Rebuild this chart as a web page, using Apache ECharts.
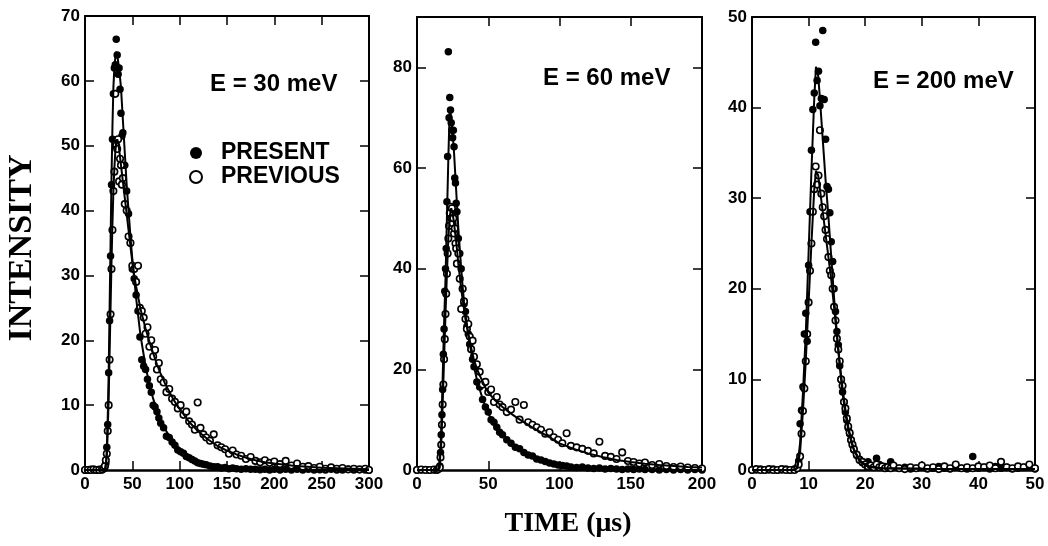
<!DOCTYPE html>
<html>
<head>
<meta charset="utf-8">
<title>Intensity vs time</title>
<script src="https://cdn.jsdelivr.net/npm/echarts@6/dist/echarts.min.js"></script>
<style>
  html, body { margin: 0; padding: 0; background: #fff; }
  #chart { width: 1048px; height: 546px; }
</style>
</head>
<body>
<div id="chart"></div>
<script>
// ---- values (time in us, intensity) ----

// E = 30 meV
const t1 = [0, 3, 6, 9, 12, 15, 18, 20,
  21, 22, 23, 24, 25, 26, 27, 28, 29, 30, 31, 32, 33, 34, 35, 36, 37, 38, 39, 40,
  42, 44, 46, 48, 50, 52, 54, 56, 58, 60, 62, 64, 66, 68, 70, 72, 74, 76, 78, 80,
  83, 86, 89, 92, 95, 98, 101, 104, 107, 110, 113, 116, 119, 122, 125, 128,
  132, 136, 140, 144, 148, 152, 156, 160,
  165, 170, 175, 180, 185, 190, 195, 200,
  206, 212, 218, 224, 230, 236, 242, 248, 254, 260, 266, 272, 278, 284, 290, 296,
  300]
const present1 = [0, 0, 0.1, 0, 0, 0.1, 0, 0.2,
  0.5, 1, 3.5, 7, 15, 23, 33, 44, 51, 58, 62, 62.5, 66.4, 64, 61, 62, 58.7, 55, 51.5, 52,
  47, 43, 39.5, 35, 31, 29.5, 27, 24.5, 20.5, 17, 16, 15.5, 14, 13, 12, 10, 9.7, 9, 8, 7.2,
  6.5, 5.2, 5, 4.3, 3.8, 3.1, 2.8, 2.6, 2.1, 1.9, 1.6, 1.4, 1.1, 1.0, 0.9, 0.8,
  0.6, 0.5, 0.5, 0.3, 0.4, 0.2, 0.3, 0.2,
  0.1, 0.2, 0.1, 0.1, 0.05, 0.1, 0, 0.1,
  0, 0.1, 0, 0.1, 0, 0.1, 0, 0.05, 0, 0.1, 0, 0, 0.1, 0, 0.05, 0,
  0]
const previous1 = [0, 0, 0, 0.1, 0, 0, 0.1, 0.3,
  0.6, 1.5, 2.5, 6, 10, 17, 24, 31, 37, 43, 46, 58, 50, 49.5, 51, 44.5, 48, 47, 44, 45,
  41, 40, 36, 35, 31.5, 31, 29, 31.5, 25, 24.5, 23.5, 21, 22, 19, 20, 17.5, 18.5, 15.5, 16.5, 14,
  13.5, 12, 12.5, 11, 10.5, 9.5, 10, 8.5, 9, 7.5, 7, 6.2, 10.4, 6.5, 5.5, 5,
  4.5, 5.5, 3.8, 3.5, 3.2, 2.5, 3, 2.4,
  2.2, 1.7, 2.0, 1.4, 1.2, 1.5, 1.1, 1.3,
  0.9, 1.4, 0.7, 1.0, 0.5, 0.6, 0.3, 0.5, 0.2, 0.4, 0.2, 0.3, 0.1, 0.2, 0.1, 0.2,
  0]
const fitT1 = [0, 21, 22, 23, 24, 25, 26, 27, 28, 29, 30, 31, 32, 33, 34, 35, 36,
  38, 40, 42, 44, 46, 48, 50, 52, 54, 56, 58, 60,
  64, 68, 72, 76, 80, 85, 90, 95, 100,
  110, 120, 130, 140, 150, 160, 170, 180, 190, 200, 220, 250, 300]
const fitPresent1 = [0, 0, 0.5, 3, 8, 15, 25, 35, 45, 53, 59, 62, 63.5, 64.5, 64, 63, 62,
  59, 54, 49, 44, 40, 36, 32.5, 29.5, 26.5, 24, 21.5, 19.5,
  16, 13.2, 11, 9.2, 7.7, 6.2, 5, 4, 3.2,
  2.0, 1.3, 0.85, 0.55, 0.35, 0.25, 0.15, 0.1, 0.08, 0.05, 0.03, 0.01, 0]
const fitPrevious1 = [0, 0, 0.3, 2, 6, 11, 18, 25, 32, 38, 43, 46.5, 49, 50.5, 51, 50.5, 49.5,
  47, 44.5, 42, 39.5, 37, 34.5, 32, 30, 28.3, 26.8, 25.3, 24,
  21.8, 19.8, 18, 16.3, 14.8, 13.2, 11.8, 10.5, 9.4,
  7.4, 5.9, 4.7, 3.7, 3.0, 2.4, 1.9, 1.5, 1.2, 1.0, 0.65, 0.35, 0.1]

// E = 60 meV
const t2 = [0, 3, 6, 9, 12, 14, 15,
  16, 16.5, 17, 17.5, 18, 18.5, 19, 19.5, 20, 20.5, 21, 21.5, 22, 22.5, 23, 23.5, 24, 24.5, 25, 25.5, 26, 26.5, 27, 27.5, 28,
  29, 30, 31, 32, 33, 34, 35, 36, 37, 38, 39, 40,
  42, 44, 46, 48, 50, 52, 54, 56, 58, 60,
  63, 66, 69, 72, 75, 78, 81, 84, 87, 90, 93, 96, 99, 102, 105, 108,
  112, 116, 120, 124, 128, 132, 136, 140, 144, 148, 152, 156, 160,
  165, 170, 175, 180, 185, 190, 195, 200]
const present2 = [0, 0, 0.1, 0, 0, 0.1, 0.3,
  0.8, 3.5, 7, 11, 16, 23, 28, 35.5, 40, 44, 53.3, 62.3, 83.1, 70, 74, 71.5, 69, 67.5, 66, 67.5, 64.2, 58, 57, 53, 51.3,
  46, 43, 40, 36, 33, 31.5, 28.5, 27, 25, 24, 22, 20.5,
  17.5, 16.5, 14, 12.5, 11.5, 10, 9.5, 8.5, 7.5, 7,
  6, 5.3, 4.5, 4.2, 3.5, 3.0, 2.8, 2.2, 2.0, 1.7, 1.4, 1.2, 1.0, 0.9, 0.8, 0.6,
  0.5, 0.6, 0.4, 0.3, 0.4, 0.2, 0.3, 0.2, 0.1, 0.2, 0.1, 0.2, 0.1,
  0.1, 0, 0.1, 0, 0.1, 0, 0.1, 0]
const previous2 = [0, 0.1, 0, 0, 0.1, 0, 0.2,
  0.5, 2.5, 5, 9, 13, 17, 22, 26, 31, 35, 39, 43, 46, 48.5, 51, 52.3, 50, 52, 49, 50, 47, 48, 45, 44, 41,
  43, 38, 32, 36, 33.5, 30, 28, 29, 26.5, 24, 25.7, 22.5,
  21, 19.5, 17, 17.5, 15.5, 16, 13.5, 14.5, 13, 12.5,
  11.5, 12, 13.5, 10, 12.9, 9.5, 9, 8.5, 8, 7.2, 7.5, 6.5, 6, 5.3, 7.3, 4.8,
  4.5, 4.2, 3.8, 3.3, 5.6, 2.8, 2.6, 2.2, 3.5, 1.8, 1.6, 1.3, 1.5,
  1.0, 1.2, 0.8, 0.6, 0.7, 0.5, 0.4, 0.3]
const fitT2 = [0, 15, 16, 17, 18, 19, 20, 21, 22, 23, 24, 25, 26, 27, 28, 29, 30, 31, 32, 33, 34,
  36, 38, 40, 42, 44, 46, 48, 50,
  55, 60, 65, 70, 75, 80, 85, 90, 95, 100,
  110, 120, 130, 140, 150, 160, 170, 180, 190, 200]
const fitPresent2 = [0, 0, 0.5, 8, 18, 29, 38, 50, 62, 72, 70, 67, 63, 58, 53, 48, 44, 40, 36.5, 33.5, 31,
  27, 23.5, 20.5, 18, 16, 14.2, 12.6, 11.2,
  8.8, 6.8, 5.6, 4.5, 3.6, 2.8, 2.2, 1.7, 1.3, 1.0,
  0.6, 0.4, 0.25, 0.15, 0.1, 0.08, 0.05, 0.03, 0.02, 0.01]
const fitPrevious2 = [0, 0, 0.3, 5, 13, 22, 31, 39, 46, 50.5, 52, 51, 49, 46.5, 44, 41, 38.5, 36, 34, 32, 30,
  27, 24.3, 21.8, 20.2, 18.8, 17.6, 16.4, 15.4,
  13.8, 12.5, 11.4, 10.4, 9.5, 8.6, 7.8, 7.0, 6.2, 5.3,
  4.2, 3.3, 2.6, 2.0, 1.6, 1.25, 1.0, 0.8, 0.6, 0.5]

// E = 200 meV
const t3 = [0, 0.75, 1.5, 2.25, 3, 3.75, 4.5, 5.25, 6, 6.75, 7.5,
  8, 8.25, 8.5, 8.75, 9, 9.25, 9.5, 9.75, 10, 10.25, 10.5, 10.75, 11, 11.25, 11.5, 11.75,
  12, 12.25, 12.5, 12.75, 13, 13.25, 13.5, 13.75, 14, 14.25, 14.5, 14.75, 15, 15.25, 15.5, 15.75,
  16, 16.25, 16.5, 16.75, 17, 17.25, 17.5, 17.75, 18,
  18.5, 19, 19.5, 20, 20.5, 21, 21.5, 22, 22.5, 23, 23.5, 24, 24.5, 25,
  26, 27, 28, 29, 30, 31, 32, 33, 34, 35, 36, 37, 38, 39, 40, 41, 42, 43, 44, 45, 46, 47, 48, 49, 50]
const present3 = [0, 0, 0.1, 0, 0, 0.1, 0, 0, 0.1, 0, 0.1,
  0.3, 1, 5.1, 6.6, 9.2, 15, 17.3, 14.2, 22.6, 28.5, 35.3, 39.8, 41.6, 47.2, 43, 44,
  40.2, 41, 48.5, 40.9, 36.5, 31.3, 31, 28.4, 25.2, 23, 20, 17.5, 15.3, 13.8, 11.5, 10,
  8.6, 7.5, 6.4, 5.5, 4.6, 4, 3.3, 2.8, 2.2,
  1.6, 1.2, 0.8, 0.6, 0.9, 0.4, 0.5, 1.3, 0.6, 0.3, 0.4, 0.2, 0.9, 0.3,
  0.2, 0.3, 0.1, 0.2, 0.3, 0.1, 0.2, 0.4, 0.2, 0.1, 0.3, 0.2, 0.1, 1.5, 0.2, 0.3, 0.1, 0.4, 0.2, 0.3, 0.1, 0.2, 0.3, 0.4, 0.1]
const previous3 = [0, 0.1, 0, 0, 0.1, 0, 0, 0.1, 0, 0, 0,
  0.2, 0.6, 1.5, 4, 6.5, 9, 12, 15, 18.5, 22, 25, 28.5, 31, 33.5, 31.5, 32.5,
  37.5, 30.5, 29, 28, 26.5, 25.5, 23.5, 22, 21.5, 20, 18, 16.5, 14.5, 13.3, 12, 10,
  9.3, 7.5, 6.8, 5.7, 4.8, 4.1, 3.3, 2.8, 2.3,
  1.7, 1.1, 0.9, 0.6, 0.4, 0.5, 0.3, 0.6, 0.3, 0.4, 0.2, 0.3, 0.2, 0.5,
  0.2, 0.1, 0.3, 0.2, 0.5, 0.2, 0.3, 0.1, 0.4, 0.2, 0.6, 0.2, 0.3, 0.2, 0.4, 0.3, 0.5, 0.2, 0.9, 0.3, 0.2, 0.4, 0.3, 0.6, 0.2]
const fitT3 = [0, 7.5, 8, 8.5, 9, 9.5, 10, 10.5, 11, 11.3, 11.7,
  12, 12.5, 13, 13.5, 14, 14.5, 15, 15.5, 16, 16.5, 17, 17.5, 18,
  19, 20, 21, 23, 30, 40, 50]
const fitPresent3 = [0, 0, 0.3, 3, 8.5, 15, 24, 33, 41, 44.5, 43.5,
  41, 36.5, 32, 28, 23.5, 19, 15, 11.5, 8.5, 6.2, 4.5, 3.2, 2.2,
  1.0, 0.5, 0.3, 0.2, 0.15, 0.12, 0.1]
const fitPrevious3 = [0, 0, 0.2, 2, 6.5, 12, 18.5, 25, 31, 33, 32.5,
  31, 28.5, 26, 23.5, 21, 18, 14.8, 11.8, 9, 6.7, 4.8, 3.4, 2.3,
  1.1, 0.6, 0.35, 0.2, 0.15, 0.12, 0.1]

// axis ranges and step of the tick labels
const xMax = [300, 200, 50]
const xStep = [50, 50, 10]
const yMax = [70, 90, 50]
const yStep = [10, 20, 10]
const energyLabels = ['E = 30 meV', 'E = 60 meV', 'E = 200 meV']

// ---- layout ----
const SANS = '"Liberation Sans", Arial, sans-serif'
const SERIF = '"Liberation Serif", "Times New Roman", serif'
const grids = [
  { left: 85, top: 16, width: 284, height: 454 },
  { left: 417, top: 17, width: 285, height: 453 },
  { left: 752, top: 17, width: 283, height: 453 }
]
const energyPos = [[210, 72], [543, 66], [873, 69]]

const panels = [
  { t: t1, present: present1, previous: previous1, fitT: fitT1, fitPresent: fitPresent1, fitPrevious: fitPrevious1 },
  { t: t2, present: present2, previous: previous2, fitT: fitT2, fitPresent: fitPresent2, fitPrevious: fitPrevious2 },
  { t: t3, present: present3, previous: previous3, fitT: fitT3, fitPresent: fitPresent3, fitPrevious: fitPrevious3 }
]

function pairs(xs, ys) {
  return xs.map((x, i) => [x, ys[i]])
}

const frameLine = { show: true, onZero: false, lineStyle: { color: '#000', width: 2 } }
const tick = { show: true, inside: true, length: 9, lineStyle: { color: '#000', width: 1.5 } }
const label = { color: '#000', fontFamily: SANS, fontWeight: 'bold', fontSize: 17 }

const xAxis = []
const yAxis = []
const series = []
const graphic = []

panels.forEach((p, i) => {
  const base = { gridIndex: i, min: 0, splitLine: { show: false }, axisTick: tick }
  xAxis.push(Object.assign({}, base, {
    type: 'value', position: 'bottom', max: xMax[i], interval: xStep[i],
    axisLine: { show: true, onZero: false, lineStyle: { color: '#000', width: 2.5 } },
    axisLabel: Object.assign({ margin: 6 }, label)
  }))
  xAxis.push(Object.assign({}, base, {
    type: 'value', position: 'top', max: xMax[i], interval: xStep[i],
    axisLine: frameLine, axisLabel: { show: false }
  }))
  yAxis.push(Object.assign({}, base, {
    type: 'value', position: 'left', max: yMax[i], interval: yStep[i], axisLine: frameLine,
    axisLabel: Object.assign({ margin: 5, showMaxLabel: yMax[i] % yStep[i] === 0 }, label)
  }))
  yAxis.push(Object.assign({}, base, {
    type: 'value', position: 'right', max: yMax[i], interval: yStep[i],
    axisLine: frameLine, axisLabel: { show: false }
  }))

  const ax = { xAxisIndex: 2 * i, yAxisIndex: 2 * i }
  series.push(Object.assign({
    name: 'PRESENT', type: 'scatter', symbol: 'circle', symbolSize: 7.5,
    itemStyle: { color: '#000', opacity: 1 }, data: pairs(p.t, p.present)
  }, ax))
  series.push(Object.assign({
    name: 'PREVIOUS', type: 'scatter', symbol: 'circle', symbolSize: 6.5,
    itemStyle: { color: '#fff', borderColor: '#000', borderWidth: 1.6, opacity: 1 }, data: pairs(p.t, p.previous)
  }, ax))
  series.push(Object.assign({
    name: 'fit present', type: 'line', showSymbol: false, symbol: 'none', silent: true,
    lineStyle: { color: '#000', width: 2 }, data: pairs(p.fitT, p.fitPresent)
  }, ax))
  series.push(Object.assign({
    name: 'fit previous', type: 'line', showSymbol: false, symbol: 'none', silent: true,
    lineStyle: { color: '#000', width: 2 }, data: pairs(p.fitT, p.fitPrevious)
  }, ax))

  graphic.push({
    type: 'text', left: energyPos[i][0], top: energyPos[i][1],
    style: { text: energyLabels[i], font: 'bold 24px ' + SANS, fill: '#000' }
  })
})

graphic.push({
  type: 'text', x: 22, y: 248, rotation: Math.PI / 2,
  style: { text: 'INTENSITY', font: 'bold 34px ' + SERIF, fill: '#000', align: 'center', verticalAlign: 'middle' }
})
graphic.push({
  type: 'text', x: 568, y: 524,
  style: { text: 'TIME (μs)', font: 'bold 28px ' + SERIF, fill: '#000', align: 'center', verticalAlign: 'middle' }
})

const chart = echarts.init(document.getElementById('chart'))
chart.setOption({
  backgroundColor: '#fff',
  animation: false,
  grid: grids,
  xAxis: xAxis,
  yAxis: yAxis,
  legend: {
    data: ['PRESENT', 'PREVIOUS'],
    orient: 'vertical',
    left: 184,
    top: 136,
    icon: 'circle',
    itemWidth: 40,
    itemHeight: 12,
    itemGap: 0,
    selectedMode: false,
    textStyle: { color: '#000', fontFamily: SANS, fontWeight: 'bold', fontSize: 23, lineHeight: 24 }
  },
  graphic: graphic,
  series: series
})
</script>
</body>
</html>
